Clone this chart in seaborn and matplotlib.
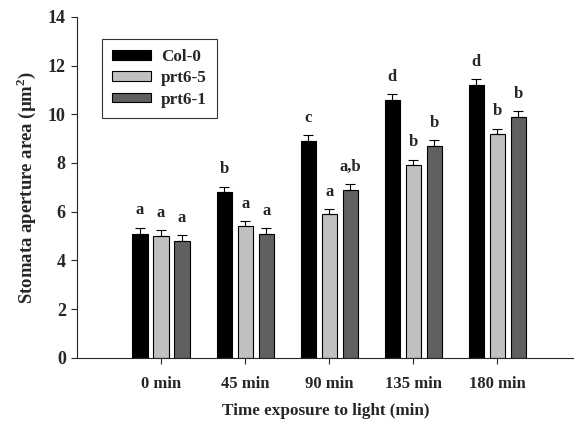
import numpy as np
import pandas as pd
import matplotlib
matplotlib.use('Agg')
import matplotlib.pyplot as plt
import seaborn as sns

# Data
times = ['0 min', '45 min', '90 min', '135 min', '180 min']
lines = ['Col-0', 'prt6-5', 'prt6-1']
col0 = [5.1, 6.8, 8.9, 10.6, 11.2]
prt65 = [5.0, 5.4, 5.9, 7.9, 9.2]
prt61 = [4.8, 5.1, 6.9, 8.7, 9.9]
col0_err = [0.25, 0.23, 0.25, 0.24, 0.24]
prt65_err = [0.23, 0.21, 0.22, 0.24, 0.21]
prt61_err = [0.23, 0.22, 0.23, 0.25, 0.22]
col0_sig = ['a', 'b', 'c', 'd', 'd']
prt65_sig = ['a', 'a', 'a', 'b', 'b']
prt61_sig = ['a', 'a', 'a,b', 'b', 'b']

colors = ['#000000', '#c0c0c0', '#606060']

sns.set_style('ticks')
plt.rcParams['font.family'] = ['Liberation Serif', 'DejaVu Serif']
plt.rcParams['font.weight'] = 'bold'
plt.rcParams['mathtext.fontset'] = 'custom'
plt.rcParams['mathtext.rm'] = 'Liberation Serif'
plt.rcParams['mathtext.bf'] = 'Liberation Serif:bold'

df = pd.DataFrame({
    'time': times * 3,
    'line': [l for l in lines for _ in times],
    'area': col0 + prt65 + prt61,
})
errs = [col0_err, prt65_err, prt61_err]
sigs = [col0_sig, prt65_sig, prt61_sig]

fig = plt.figure(figsize=(5.74, 4.21), dpi=100)
ax = fig.add_axes([0.134, 0.15, 0.866, 0.81])

sns.barplot(data=df, x='time', y='area', hue='line', order=times,
            hue_order=lines, palette=colors, width=0.75, gap=0.28,
            edgecolor='black', linewidth=0.8, errorbar=None, ax=ax)

bar_groups = list(ax.containers)
for j, cont in enumerate(bar_groups):
    xs = [b.get_x() + b.get_width() / 2 for b in cont]
    hs = [b.get_height() for b in cont]
    e = np.array(errs[j])
    ax.errorbar(xs, hs, yerr=[np.zeros_like(e), e], fmt='none',
                ecolor='black', elinewidth=0.8, capsize=3.5, capthick=0.8)
    for x, h, err, s in zip(xs, hs, e, sigs[j]):
        ax.text(x, h + err + 0.38, s, ha='center', va='bottom',
                fontsize=12, fontweight='bold')

ax.set_xlim(-1.0, 4.91)
ax.set_ylim(0, 14)
ax.set_yticks(range(0, 15, 2))
ax.tick_params(axis='both', direction='out', length=4, width=0.8)
ax.tick_params(axis='y', labelsize=13, pad=4)
ax.tick_params(axis='x', labelsize=12, pad=9)
for lab in ax.get_xticklabels() + ax.get_yticklabels():
    lab.set_fontweight('bold')
sns.despine(ax=ax)
ax.spines['left'].set_linewidth(0.8)
ax.spines['bottom'].set_linewidth(0.8)

ax.set_xlabel('Time exposure to light (min)', fontsize=12.3, fontweight='bold', labelpad=8)
ax.set_ylabel('Stomata aperture area (µm$^\\mathbf{2}$)', fontsize=13.5,
              fontweight='bold', labelpad=7)

handles, labels = ax.get_legend_handles_labels()
leg = ax.legend(handles, labels, loc='upper left', bbox_to_anchor=(0.05, 0.935),
                borderaxespad=0, frameon=True, fancybox=False, edgecolor='black',
                fontsize=12.3, handlelength=2.3, handleheight=0.5, borderpad=0.6,
                labelspacing=0.3, handletextpad=0.55)
leg.get_frame().set_linewidth(0.8)
for t in leg.get_texts():
    t.set_fontweight('bold')

fig.savefig('out.png', dpi=100)
